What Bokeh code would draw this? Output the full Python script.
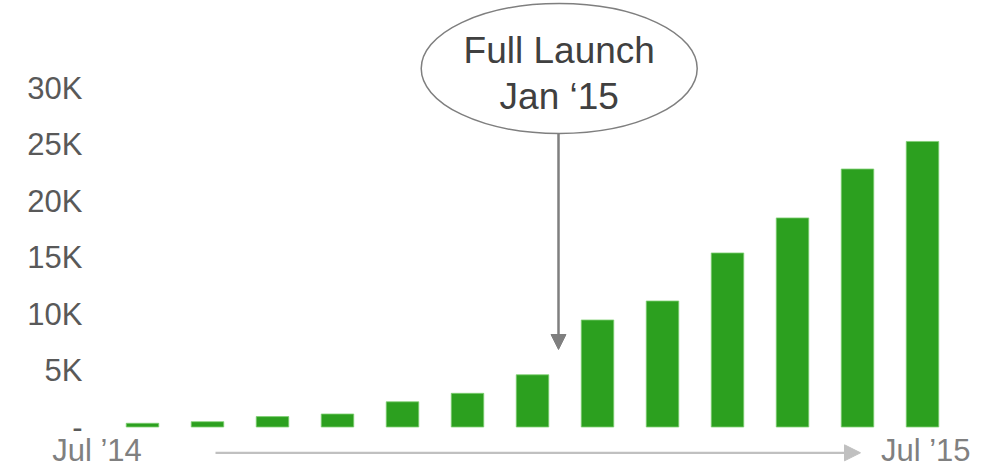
from bokeh.plotting import figure
from bokeh.models import Range1d, Arrow, NormalHead, ColumnDataSource
from bokeh.core.properties import value
from bokeh.embed import file_html
from bokeh.resources import INLINE

# Monthly users, Jul '14 .. Jul '15
months = ["Jul '14", "Aug '14", "Sep '14", "Oct '14", "Nov '14", "Dec '14",
          "Jan '15", "Feb '15", "Mar '15", "Apr '15", "May '15", "Jun '15", "Jul '15"]
users = [330, 470, 920, 1150, 2230, 2980, 4620, 9470, 11150, 15400, 18500, 22830, 25270]

y_ticks = [0, 5000, 10000, 15000, 20000, 25000, 30000]
y_tick_labels = ["-", "5K", "10K", "15K", "20K", "25K", "30K"]

x_end_labels = ["Jul \u201914", "Jul \u201915"]
callout_lines = ["Full Launch", "Jan \u201815"]

FONT = "Liberation Sans"
GREEN = "#2ca01f"

p = figure(width=992, height=468, output_backend="svg", toolbar_location=None,
           x_range=Range1d(-2.1846, 13.0769), y_range=Range1d(-3672.6, 37743.6),
           min_border=0)
p.axis.visible = False
p.grid.visible = False
p.outline_line_color = None
p.background_fill_color = "white"
p.border_fill_color = "white"

xs = list(range(len(months)))
src = ColumnDataSource(dict(x=xs, top=users, month=months))
p.vbar(x="x", top="top", bottom=0, width=0.5, source=src,
       fill_color=GREEN, line_color="#7fcf72", line_width=0.8)

# y tick labels drawn as text at the left edge
p.text(x=[-0.923] * len(y_ticks), y=y_ticks, text=y_tick_labels,
       text_font=value(FONT), text_font_size="31px", text_color="#595959",
       text_align="right", text_baseline="middle")

# time axis: first / last month labels and the gray arrow between them
p.text(x=[-0.70, 12.05], y=[-2080, -2080], text=x_end_labels,
       text_font=value(FONT), text_font_size="31px", text_color="#808080",
       text_align="center", text_baseline="middle")
p.add_layout(Arrow(x_start=1.123, y_start=-2283, x_end=11.046, y_end=-2283,
                   line_color="#c0c0c0", line_width=2.3,
                   end=NormalHead(size=16, fill_color="#c0c0c0", line_color="#c0c0c0")))

# launch callout
launch_x = 6.4
p.add_layout(Arrow(x_start=launch_x, y_start=25974, x_end=launch_x, y_end=6858,
                   line_color="#7f7f7f", line_width=2.5,
                   end=NormalHead(size=15, fill_color="#7f7f7f", line_color="#7f7f7f")))
p.ellipse(x=[6.411], y=[31726], width=[4.246], height=[11504],
          fill_color="white", line_color="#7f7f7f", line_width=1.5)
p.text(x=[6.411, 6.411], y=[33292, 29292], text=callout_lines,
       text_font=value(FONT), text_font_size="37px", text_color="#404040",
       text_align="center", text_baseline="middle")

open("out.html", "w").write(file_html(p, INLINE))
